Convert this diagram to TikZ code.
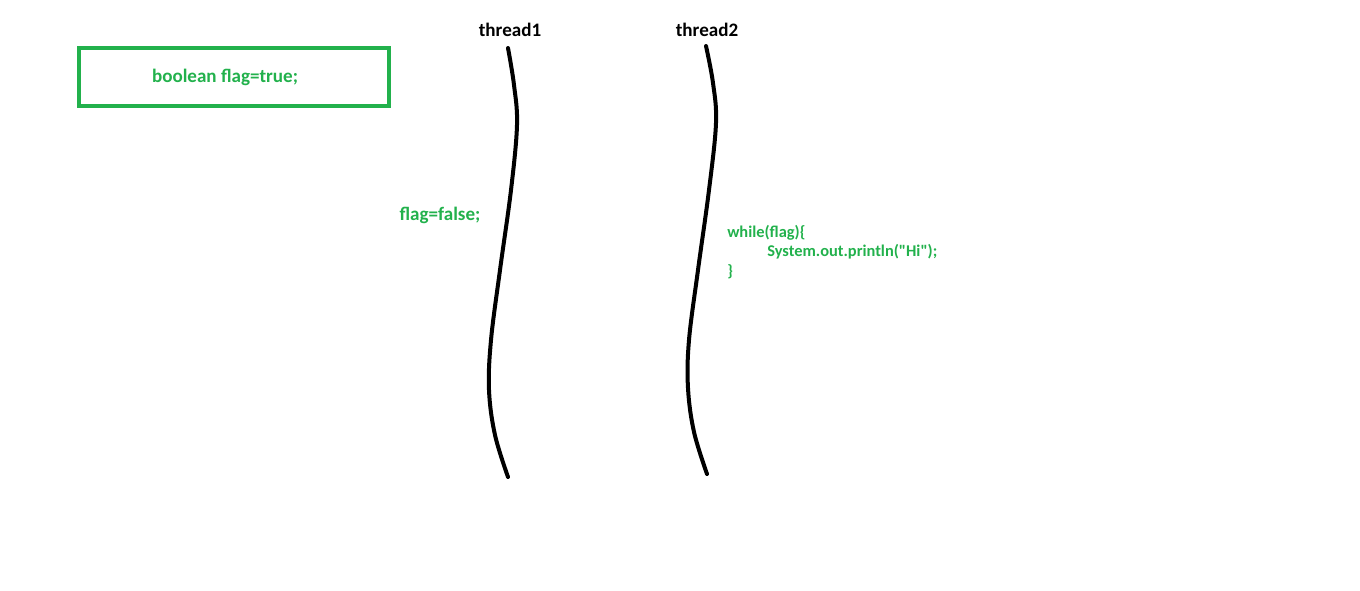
\documentclass[tikz,border=0pt]{standalone}
\usepackage{fontspec}
\setmainfont{Carlito}
\newfontfamily\codefont{Carlito}
\definecolor{pgreen}{HTML}{22B14C}
\begin{document}
\begin{tikzpicture}[x=0.75pt,y=-0.75pt,
  lbl/.style={inner sep=0pt,anchor=base,font=\fontsize{14.3pt}{17pt}\selectfont\bfseries},
  gtxt/.style={lbl,text=pgreen},
  codetxt/.style={inner sep=0pt,anchor=base west,text=pgreen,font=\codefont\fontsize{12.3pt}{14.6pt}\selectfont\bfseries,align=left},
  thr/.style={line width=3pt,line cap=round},
  vbox/.style={draw=pgreen,line width=3.6pt}]
\useasboundingbox (0,0) rectangle (1360,590);
\node[vbox,minimum width=310*0.75pt,minimum height=58*0.75pt,inner sep=0pt] (box) at (234,77) {};
\node[gtxt] (flagtrue) at (225,82) {boolean flag=true;};
\node[lbl] (t1) at (510,36) {thread1};
\node[lbl] (t2) at (707,36) {thread2};
\node[gtxt] (flagfalse) at (440,220) {flag=false;};
\node[codetxt] (code) at (727,276) {while(flag)\{\\\hspace*{30pt}System.out.println("Hi");\\\}};
\draw[thr] plot[smooth,tension=0.6] coordinates {(508,48) (514,85) (517,125) (511,190) (500,270) (491,340) (489,390) (495,435) (508,477)};
\draw[thr] plot[smooth,tension=0.6] coordinates {(706,46) (713,83) (716,123) (709,190) (698,270) (689,340) (688,388) (694,432) (707,474)};
\end{tikzpicture}
\end{document}
